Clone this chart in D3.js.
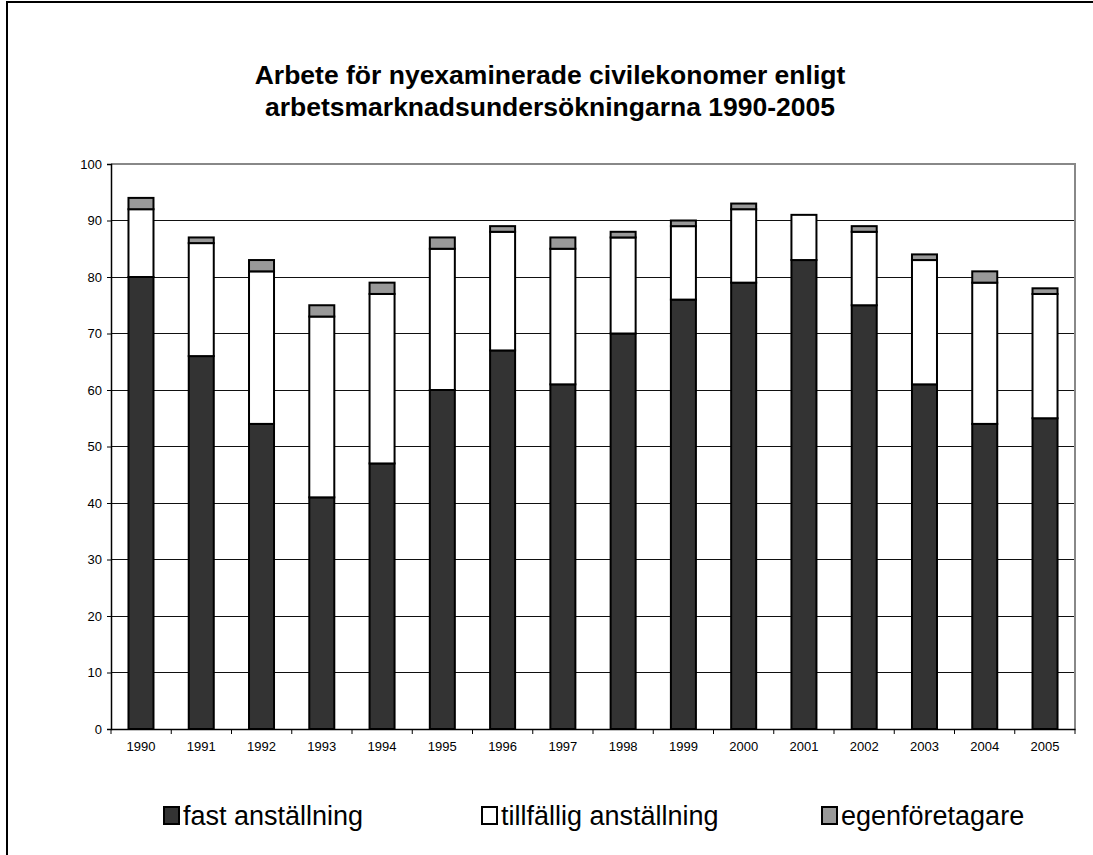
<!DOCTYPE html>
<html>
<head>
<meta charset="utf-8">
<script src="https://cdn.jsdelivr.net/npm/d3@7"></script>
<style>
	html, body { margin: 0; background: #fff; overflow: hidden; }
	svg { display: block; font-family: "Liberation Sans", Arial, sans-serif; }
</style>
</head>
<body>
<div id="chart"></div>
<script>

var years = ["1990","1991","1992","1993","1994","1995","1996","1997","1998","1999","2000","2001","2002","2003","2004","2005"];
var fast = [80, 66, 54, 41, 47, 60, 67, 61, 70, 76, 79, 83, 75, 61, 54, 55];
var tillfallig = [12, 20, 27, 32, 30, 25, 21, 24, 17, 13, 13, 8, 13, 22, 25, 22];
var egen = [2, 1, 2, 2, 2, 2, 1, 2, 1, 1, 1, 0, 1, 1, 2, 1];
var seriesNames = ["fast anställning", "tillfällig anställning", "egenföretagare"];
var yTicks = [0, 10, 20, 30, 40, 50, 60, 70, 80, 90, 100];
var titleLines = ["Arbete för nyexaminerade civilekonomer enligt", "arbetsmarknadsundersökningarna 1990-2005"];

var width = 1093, height = 855;
var [ mT, mR, mB, mL ] = [ 164, 18, 126, 111 ];		// plot area margins
var colors = [ "#333333", "#ffffff", "#999999" ];

var svg = d3.select("#chart").append("svg")
	.attr("width", width)
	.attr("height", height);

// white page behind everything
svg.append("rect")
	.attr("width", width).attr("height", height)
	.attr("fill", "#fff");

// outer frame: only left and top edges are inside the picture
svg.append("path")
	.attr("d", `M7,${height}V2H${width}`)
	.attr("fill", "none")
	.attr("stroke", "#000")
	.attr("stroke-width", 2);

// title
svg.append("g")
	.selectAll("text")
	.data(titleLines)
	.join("text")
	.attr("x", 550)
	.attr("y", (d,i) => 84 + i*32)
	.attr("text-anchor", "middle")
	.attr("font-size", 26.5)
	.attr("font-weight", "bold")
	.text(d => d);

var x = d3.scaleBand(years, [ mL, width-mR ]).paddingInner(0.585).paddingOuter(0.29);
var y = d3.scaleLinear([0, 100], [ height-mB, mT ]);

// gridlines
svg.append("g")
	.selectAll("line")
	.data(yTicks.filter(t => t > 0 && t < 100))
	.join("line")
	.attr("x1", mL).attr("x2", width-mR)
	.attr("y1", d => y(d)).attr("y2", d => y(d))
	.attr("stroke", "#111")
	.attr("stroke-width", 1)
	.attr("shape-rendering", "crispEdges");

// plot box top/right in gray
svg.append("path")
	.attr("d", `M${mL},${y(100)}H${width-mR}V${y(0)}`)
	.attr("fill", "none")
	.attr("stroke", "#888")
	.attr("stroke-width", 2);

// stacks
var rows = years.map((yr, i) => ({ year: yr, v: [ fast[i], tillfallig[i], egen[i] ] }));
var gBars = svg.append("g");
rows.forEach(r => {
	var base = 0;
	r.v.forEach((v, k) => {
		if(v > 0)	{
			gBars.append("rect")
				.attr("x", x(r.year))
				.attr("y", y(base + v))
				.attr("width", x.bandwidth())
				.attr("height", y(base) - y(base + v))
				.attr("fill", colors[k])
				.attr("stroke", "#000")
				.attr("stroke-width", 2);
		}
		base += v;
	});
});

// axes
var yAxis = svg.append("g")
	.attr("transform", `translate(${mL}, 0)`)
	.call(d3.axisLeft(y).tickValues(yTicks).tickSize(4).tickPadding(5));

var xAxis = svg.append("g")
	.attr("transform", `translate(0, ${height-mB})`)
	.call(d3.axisBottom(x).tickSize(0).tickPadding(13));

// x ticks sit between categories
xAxis.selectAll(".sep")
	.data(d3.range(years.length + 1))
	.join("line")
	.attr("x1", i => mL + i*(width-mR-mL)/years.length)
	.attr("x2", i => mL + i*(width-mR-mL)/years.length)
	.attr("y1", 0).attr("y2", 5)
	.attr("stroke", "#000");

[yAxis, xAxis].forEach(a => {
	a.selectAll("text").attr("font-size", 13).attr("font-family", "Liberation Sans, Arial, sans-serif").attr("fill", "#000");
	a.select(".domain").attr("stroke", "#000").attr("stroke-width", 1.5);
	a.selectAll(".tick line").attr("stroke", "#000");
});

// legend
var legendX = [ 163, 481, 821 ];
var legend = svg.append("g")
	.selectAll("g")
	.data(seriesNames)
	.join("g")
	.attr("transform", (d,i) => `translate(${legendX[i]}, 807)`);

legend.append("rect")
	.attr("x", 1).attr("y", 0)
	.attr("width", 15).attr("height", 17)
	.attr("fill", (d,i) => colors[i])
	.attr("stroke", "#000")
	.attr("stroke-width", 2);

legend.append("text")
	.attr("x", 20)
	.attr("y", 18)
	.attr("font-size", 27)
	.text(d => d);

</script>
</body>
</html>
